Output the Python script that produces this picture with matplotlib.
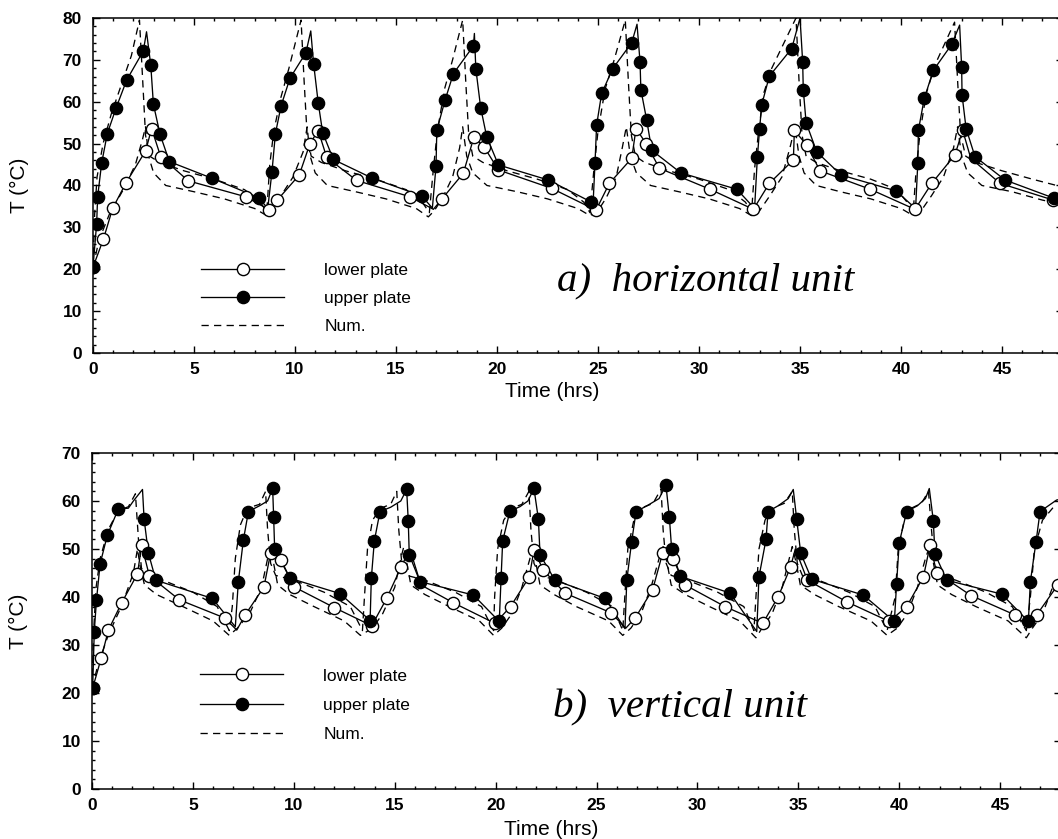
import numpy as np
import matplotlib.pyplot as plt
from matplotlib.lines import Line2D
from matplotlib.ticker import MultipleLocator

plt.rcParams['font.family'] = ['Liberation Sans', 'DejaVu Sans']

# ---------------- a) horizontal unit ----------------
# measured upper plate (filled markers)
h_up_t = [0.0, 0.18, 0.23, 0.43, 0.71, 1.15, 1.67, 2.49, 2.86, 2.99, 3.32, 3.78, 5.9, 8.2,
          8.86, 9.03, 9.31, 9.75, 10.54, 10.92, 11.15, 11.37, 11.9, 13.8, 16.27,
          16.98, 17.02, 17.43, 17.84, 18.83, 18.95, 19.19, 19.49, 20.07, 22.54, 24.64,
          24.85, 24.93, 25.18, 25.73, 26.67, 27.08, 27.12, 27.41, 27.66, 29.1, 31.87,
          32.89, 33.0, 33.1, 33.48, 34.59, 35.13, 35.16, 35.3, 35.83, 37.03, 39.75,
          40.83, 40.86, 41.15, 41.6, 42.51, 43.0, 43.02, 43.22, 43.66, 45.15, 47.55]
h_up_T = [20.5, 30.8, 37.3, 45.4, 52.4, 58.6, 65.2, 72.1, 68.7, 59.4, 52.2, 45.7, 41.7, 37.1,
          43.3, 52.4, 59.0, 65.6, 71.7, 69.1, 59.7, 52.6, 46.2, 41.8, 37.5,
          44.6, 53.2, 60.4, 66.7, 73.3, 67.9, 58.6, 51.6, 44.9, 41.3, 36.1,
          45.3, 54.4, 62.0, 67.9, 74.1, 69.5, 62.9, 55.6, 48.4, 43.0, 39.1,
          46.9, 53.6, 59.2, 66.1, 72.7, 69.5, 62.9, 55.0, 48.0, 42.5, 38.7,
          45.4, 53.2, 60.8, 67.5, 73.7, 68.3, 61.6, 53.6, 46.9, 41.3, 37.0]
# unmarked points of the upper plate line (spikes and minima)
h_up_x_t = [2.65, 8.65, 10.78, 16.8, 18.88, 24.75, 26.93, 32.75, 35.0, 40.72, 42.9, 48.5]
h_up_x_T = [76.7, 34.5, 76.9, 34.6, 76.3, 35.2, 78.5, 34.5, 80.0, 34.5, 78.3, 36.4]

# measured lower plate (open markers)
h_lo_t = [0.0, 0.51, 0.97, 1.63, 2.61, 2.9, 3.35, 4.72, 7.56, 8.72,
          9.12, 10.21, 10.74, 11.15, 11.57, 13.05, 15.69,
          17.26, 18.33, 18.86, 19.36, 20.07, 22.71, 24.9,
          25.56, 26.67, 26.88, 27.38, 28.04, 30.54, 32.69,
          33.48, 34.67, 34.72, 35.33, 35.99, 38.47, 40.69,
          41.52, 42.67, 43.05, 44.9, 47.54]
h_lo_T = [20.5, 27.1, 34.5, 40.6, 48.3, 53.6, 46.9, 41.1, 37.3, 34.2,
          36.5, 42.5, 50.0, 53.1, 46.7, 41.2, 37.3,
          36.7, 42.9, 51.6, 49.2, 43.7, 39.3, 34.1,
          40.5, 46.5, 53.6, 50.0, 44.1, 39.1, 34.3,
          40.5, 46.1, 53.2, 49.6, 43.5, 39.1, 34.3,
          40.5, 47.3, 53.2, 40.5, 36.5]
h_lo_x_t = [16.85, 43.45, 48.5]
h_lo_x_T = [34.3, 46.5, 35.8]

# numerical results
h_num_up_t = [0.0, 0.08, 0.2, 0.5, 0.9, 1.4, 1.9, 2.3, 2.45, 2.6, 2.8, 3.3, 4.5, 6.0, 7.5, 8.3, 8.6,
              8.75, 8.95, 9.3, 9.7, 10.3, 10.45, 10.6, 10.8, 11.3, 12.5, 14.0, 15.5, 16.3, 16.65,
              16.85, 17.05, 17.4, 17.8, 18.3, 18.45, 18.6, 18.8, 19.3, 20.5, 22.0, 23.5, 24.3, 24.6,
              24.8, 25.0, 25.35, 25.8, 26.35, 26.5, 26.65, 26.85, 27.3, 28.5, 30.0, 31.5, 32.3, 32.6,
              32.75, 32.95, 33.2, 33.6, 34.8, 34.95, 35.1, 35.3, 35.8, 37.0, 38.5, 39.8, 40.3, 40.6,
              40.75, 40.95, 41.25, 41.7, 42.65, 42.8, 42.95, 43.2, 43.7, 45.0, 46.5, 48.5]
h_num_up_T = [20.5, 33, 42, 50, 57, 64, 71, 79.5, 66, 52, 47, 45.5, 43.5, 41.5, 39.0, 36.0, 33.5,
              45, 53, 61, 68, 79.5, 65, 52, 47, 45.5, 43.5, 41.5, 39.0, 36.0, 33.5,
              44, 53, 63, 70, 79.5, 65, 52, 47, 45.5, 43.5, 41.5, 39.0, 36.0, 33.5,
              44, 53, 63, 70, 79.5, 65, 52, 47, 45.5, 43.5, 41.5, 39.0, 36.0, 33.5,
              44, 53, 62, 68, 80, 65, 52, 47, 45.5, 43.5, 41.5, 39.0, 36.0, 33.5,
              44, 53, 62, 69, 79, 65, 52, 47, 45.5, 43.5, 41.5, 39.0]
h_num_lo_t = [0.0, 0.3, 0.8, 1.5, 2.1, 2.45, 2.6, 2.75, 3.0, 3.6, 5.0, 6.5, 8.0, 8.6,
              8.8, 9.3, 9.9, 10.4, 10.6, 10.75, 11.0, 11.6, 13.0, 14.5, 16.0, 16.6,
              16.9, 17.3, 17.8, 18.15, 18.3, 18.5, 18.8, 19.5, 21.0, 22.5, 24.0, 24.6,
              25.0, 25.4, 25.9, 26.2, 26.4, 26.6, 26.9, 27.6, 29.0, 30.5, 32.0, 32.6,
              33.0, 33.5, 34.1, 34.5, 34.75, 34.95, 35.2, 35.8, 37.0, 38.5, 40.0, 40.6,
              41.0, 41.5, 42.1, 42.6, 42.8, 43.0, 43.3, 44.0, 45.5, 47.0, 48.5]
h_num_lo_T = [20.5, 27, 33, 39, 45, 51, 54, 47, 43, 40, 38.5, 36.8, 34.5, 32.8,
              34, 37.5, 42, 48, 54, 47, 43, 40, 38.5, 36.8, 34.5, 32.5,
              34, 37, 42, 49, 54, 47, 43, 40, 38.5, 36.8, 34.5, 32.8,
              34, 37, 42, 49, 54, 47, 43, 40, 38.5, 36.8, 34.5, 32.8,
              34, 37.5, 42, 49, 54, 47, 43, 40, 38.5, 36.8, 34.5, 32.8,
              34, 37.5, 42, 49, 54, 47, 43, 40, 38.5, 36.5, 35]

# ---------------- b) vertical unit ----------------
v_up_t = [0.03, 0.11, 0.22, 0.4, 0.76, 1.3, 2.58, 2.79, 3.16, 5.96,
          7.25, 7.5, 7.75, 8.95, 9.0, 9.05, 9.81, 12.29,
          13.78, 13.84, 13.99, 14.27, 15.59, 15.67, 15.72, 16.25, 18.9,
          20.18, 20.27, 20.35, 20.71, 21.9, 22.12, 22.2, 22.94, 25.42,
          26.5, 26.74, 26.96, 28.44, 28.61, 28.72, 29.15, 31.62,
          33.05, 33.4, 33.5, 34.92, 35.12, 35.66, 38.22,
          39.76, 39.87, 40.0, 40.37, 41.69, 41.77, 42.35, 45.08,
          46.4, 46.5, 46.78, 46.98]
v_up_T = [21.0, 32.8, 39.4, 46.9, 52.9, 58.3, 56.2, 49.2, 43.5, 39.7,
          43.2, 51.9, 57.8, 62.6, 56.6, 49.9, 43.9, 40.7,
          35.1, 43.9, 51.7, 57.8, 62.4, 55.9, 48.8, 43.2, 40.4,
          34.9, 43.9, 51.7, 57.9, 62.6, 56.2, 48.8, 43.5, 39.7,
          43.5, 51.5, 57.8, 63.3, 56.6, 50.1, 44.3, 40.8,
          44.2, 52.0, 57.8, 56.2, 49.1, 43.7, 40.4,
          34.9, 42.8, 51.3, 57.8, 55.9, 49.0, 43.5, 40.6,
          34.9, 43.2, 51.5, 57.8]
v_up_x_t = [1.8, 2.05, 2.5, 7.1, 8.3, 8.7, 14.8, 15.3, 21.2, 21.6, 26.41, 27.5, 28.1,
            32.94, 34.0, 34.5, 34.75, 40.9, 41.3, 41.49, 47.8, 48.5]
v_up_x_T = [58.5, 60.0, 62.4, 33.8, 59.0, 60.0, 58.7, 60.0, 58.8, 60.0, 33.4, 59.0, 60.5,
            32.8, 59.0, 60.5, 62.4, 59.0, 60.5, 62.6, 60.2, 60.8]

v_lo_t = [0.03, 0.45, 0.81, 1.47, 2.25, 2.46, 2.84, 4.33, 6.59,
          7.58, 8.52, 8.85, 9.37, 10.01, 12.0, 13.86,
          14.6, 15.31, 17.9, 19.97,
          20.74, 21.67, 21.9, 22.36, 23.44, 25.72, 26.91,
          27.78, 28.28, 28.78, 29.39, 31.37, 33.24,
          34.01, 34.62, 35.45, 37.4, 39.51,
          40.37, 41.2, 41.53, 41.86, 43.56, 45.74,
          46.81, 47.86]
v_lo_T = [21.0, 27.2, 33.1, 38.8, 44.8, 50.8, 44.4, 39.4, 35.6,
          36.2, 42.1, 49.2, 47.7, 42.1, 37.8, 34.0,
          39.7, 46.2, 38.8, 34.5,
          38.0, 44.2, 49.8, 45.6, 40.8, 36.7, 35.6,
          41.5, 49.2, 48.0, 42.5, 38.0, 34.5,
          40.1, 46.3, 43.5, 39.0, 34.9,
          38.0, 44.2, 50.8, 45.1, 40.3, 36.25,
          36.25, 42.5]
v_lo_x_t = [7.17, 15.75, 16.3, 26.45, 34.85, 46.35, 48.5]
v_lo_x_T = [33.1, 50.0, 42.5, 33.5, 50.0, 34.0, 45.0]

v_num_up_t = [0.0, 0.08, 0.2, 0.4, 0.8, 1.3, 1.8, 2.15, 2.3, 2.45, 2.7, 3.5, 5.0, 6.2, 6.8,
              6.95, 7.1, 7.35, 7.7, 8.3, 8.6, 8.7, 8.85, 9.1, 10.0, 11.5, 12.8, 13.4,
              13.5, 13.65, 13.9, 14.3, 14.8, 15.1, 15.2, 15.35, 15.6, 16.5, 18.0, 19.3, 19.9,
              19.95, 20.1, 20.4, 20.8, 21.3, 21.65, 21.75, 21.9, 22.2, 23.0, 24.5, 25.8, 26.3,
              26.4, 26.55, 26.85, 27.2, 27.8, 28.2, 28.3, 28.45, 28.7, 29.5, 31.0, 32.3, 32.8,
              32.9, 33.05, 33.35, 33.7, 34.3, 34.7, 34.8, 34.95, 35.2, 36.0, 37.5, 38.8, 39.4,
              39.8, 39.95, 40.25, 40.6, 41.1, 41.45, 41.6, 41.75, 42.0, 42.8, 44.3, 45.6, 46.3,
              46.5, 46.7, 47.1, 47.6, 48.5]
v_num_up_T = [21, 33, 42, 48, 54, 58, 58.8, 61.5, 52, 46, 44.5, 43.5, 41, 38, 33,
              38, 48, 55, 58.5, 59.3, 62, 54, 47, 44.5, 43.5, 41, 38, 33,
              40, 50, 56, 58.5, 59.3, 62, 54, 47, 44.5, 43.5, 41, 38, 33,
              40, 50, 56, 58.5, 59.3, 62, 54, 47, 44.5, 43.5, 41, 38, 33,
              40, 50, 56, 58.5, 59.5, 62.5, 54, 47, 44.5, 43.5, 41, 38, 33,
              40, 50, 56, 58.5, 59.5, 62, 54, 47, 44.5, 43.5, 41, 38, 33,
              40, 50, 56, 58.5, 59.5, 62, 54, 47, 44.5, 43.5, 41, 38, 33,
              40, 50, 56, 58.5, 59.5]
v_num_lo_t = [0.0, 0.3, 0.8, 1.5, 2.05, 2.25, 2.4, 2.6, 3.2, 4.5, 6.0, 6.8,
              7.2, 7.8, 8.4, 8.7, 8.85, 9.0, 9.2, 9.8, 11.0, 12.5, 13.3,
              13.9, 14.4, 15.0, 15.3, 15.45, 15.6, 15.8, 16.5, 17.7, 19.2, 19.9,
              20.3, 20.8, 21.3, 21.7, 21.85, 22.0, 22.2, 22.9, 24.0, 25.6, 26.3,
              26.7, 27.2, 27.7, 28.1, 28.3, 28.5, 28.7, 29.4, 30.6, 32.1, 32.9,
              33.2, 33.7, 34.2, 34.55, 34.7, 34.9, 35.1, 35.8, 37.0, 38.6, 39.4,
              39.9, 40.4, 40.9, 41.3, 41.5, 41.7, 41.9, 42.6, 43.8, 45.4, 46.3,
              46.6, 47.1, 47.6, 48.5]
v_num_lo_T = [21, 26, 32, 38.5, 45, 50, 46, 42.5, 40.5, 38, 35, 32,
              33.5, 36.5, 42, 48, 50.5, 47, 42.5, 40.5, 38, 35, 32,
              33.5, 36.5, 42, 48, 50.5, 47, 42.5, 40.5, 38, 35, 32,
              33.5, 36.5, 42, 48, 50.5, 47, 42.5, 40.5, 38, 35, 32,
              33.5, 36.5, 42, 48, 50.5, 47, 42.5, 40.5, 38, 35, 31.5,
              33.5, 36.5, 42, 48, 50.5, 47, 42.5, 40.5, 38, 35, 32,
              33.5, 36.5, 42, 48, 50.5, 47, 42.5, 40.5, 38, 35, 31.5,
              33.5, 36.5, 42, 47]


def with_extra(t, T, xt, xT):
    # measured points plus the unmarked points, in time order
    t = np.concatenate([t, xt])
    T = np.concatenate([T, xT])
    order = np.argsort(t, kind='stable')
    return t[order], T[order]


LW = 0.95
MS = 8.8
DASH = (5.5, 4.0)


def draw_unit(ax, up, up_x, lo, lo_x, num_up, num_lo, ymax, name, name_xy, leg_xy, leg_space):
    ax.plot(*num_up, color='k', lw=LW, dashes=DASH)
    ax.plot(*num_lo, color='k', lw=LW, dashes=DASH)
    ax.plot(*with_extra(*lo, *lo_x), color='k', lw=LW)
    ax.plot(*with_extra(*up, *up_x), color='k', lw=LW)
    ax.plot(*lo, ls='none', marker='o', ms=MS, mfc='white', mec='k', mew=1.0)
    ax.plot(*up, ls='none', marker='o', ms=MS, mfc='k', mec='k', mew=1.0)

    ax.set_xlim(0, 48)
    ax.set_ylim(0, ymax)
    ax.xaxis.set_major_locator(MultipleLocator(5))
    ax.xaxis.set_minor_locator(MultipleLocator(1))
    ax.yaxis.set_major_locator(MultipleLocator(10))
    ax.yaxis.set_minor_locator(MultipleLocator(2))
    ax.tick_params(which='both', direction='in', top=True, right=True, width=1.0)
    ax.tick_params(which='major', length=5)
    ax.tick_params(which='minor', length=2.5)
    ax.tick_params(axis='x', pad=6.5)
    ax.tick_params(axis='y', pad=8)
    for lab in ax.get_xticklabels() + ax.get_yticklabels():
        lab.set_fontsize(12.5)
        lab.set_fontweight('bold')
    for sp in ax.spines.values():
        sp.set_linewidth(1.1)

    ax.set_xlabel('Time (hrs)', fontsize=15)
    ax.set_ylabel('T (°C)', fontsize=15)
    ax.yaxis.set_label_coords(-0.066, 0.5)

    ax.text(name_xy[0], name_xy[1], name, transform=ax.transAxes, fontsize=29.5,
            family='Liberation Serif', style='italic', va='baseline', ha='left')

    handles = [
        Line2D([], [], color='k', lw=LW, marker='o', ms=MS, mfc='white', mec='k'),
        Line2D([], [], color='k', lw=LW, marker='o', ms=MS, mfc='k', mec='k'),
        Line2D([], [], color='k', lw=LW, dashes=DASH),
    ]
    ax.legend(handles, ['lower plate', 'upper plate', 'Num.'], loc='upper left',
              bbox_to_anchor=leg_xy, frameon=False, fontsize=12.5, handlelength=4.8,
              handletextpad=2.3, labelspacing=leg_space, borderpad=0, borderaxespad=0)


fig = plt.figure(figsize=(10.58, 8.39), dpi=100)
ax1 = fig.add_axes([0.0879, 0.5793, 0.9165, 0.3993])
ax2 = fig.add_axes([0.0870, 0.0596, 0.9155, 0.4005])

draw_unit(ax1, (h_up_t, h_up_T), (h_up_x_t, h_up_x_T), (h_lo_t, h_lo_T), (h_lo_x_t, h_lo_x_T),
          (h_num_up_t, h_num_up_T), (h_num_lo_t, h_num_lo_T), 80,
          'a)  horizontal unit', (0.4785, 0.188), (0.1114, 0.268), 0.72)
ax1.xaxis.set_label_coords(0.474, -0.0866)

draw_unit(ax2, (v_up_t, v_up_T), (v_up_x_t, v_up_x_T), (v_lo_t, v_lo_T), (v_lo_x_t, v_lo_x_T),
          (v_num_up_t, v_num_up_T), (v_num_lo_t, v_num_lo_T), 70,
          'b)  vertical unit', (0.476, 0.214), (0.1115, 0.359), 0.82)
ax2.xaxis.set_label_coords(0.474, -0.092)

fig.savefig('out.png', dpi=100)
